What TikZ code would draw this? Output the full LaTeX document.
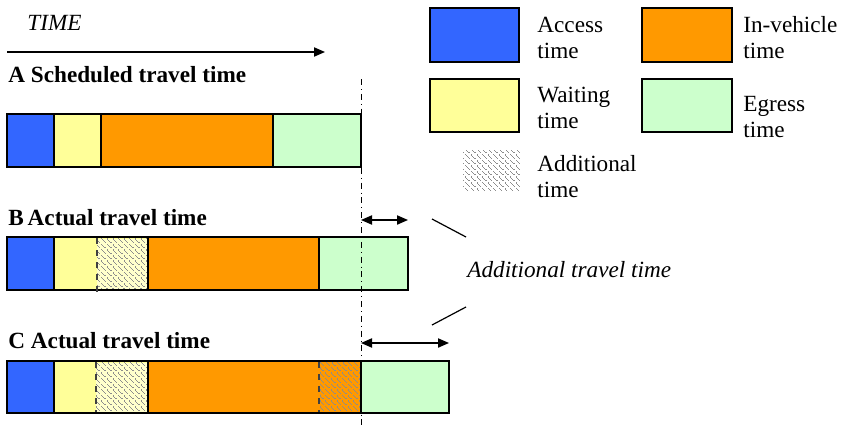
\documentclass[tikz,border=0pt]{standalone}
\usepackage{fontspec}
\setmainfont{Liberation Serif}
\usetikzlibrary{arrows.meta,patterns.meta}
\definecolor{accblue}{HTML}{3366FF}
\definecolor{waityellow}{HTML}{FFFF99}
\definecolor{paleyellow}{HTML}{FFFFCC}
\definecolor{vehorange}{HTML}{FF9900}
\definecolor{egrgreen}{HTML}{CCFFCC}
\tikzdeclarepattern{
  name=addhatch,
  type=uncolored,
  bounding box={(-.1pt,-.1pt) and (2.9pt,2.9pt)},
  tile size={(2.8pt,2.8pt)},
  line width=.4pt,
  code={\draw (.5pt,2.3pt) -- (2.3pt,.5pt);}
}

\begin{document}
\begin{tikzpicture}[x=.5pt,y=-.5pt,>={Triangle[length=5.5pt,width=4.6pt]},
  font=\fontsize{11.6}{13}\selectfont,
  seg/.style={draw=black,line width=1.4pt},
  hatch/.style={pattern=addhatch,pattern color=black!45},
  extra/.style={black!75,dashed,line width=.6pt},
  lab/.style={anchor=base west,inner sep=0pt,font=\fontsize{11.6}{13}\selectfont\bfseries},
  key/.style={anchor=base west,inner sep=0pt,align=left}]
\path[use as bounding box] (0,0) rectangle (842,428);
\fill[white] (0,0) rectangle (842,428);

% time axis
\node[anchor=base west,inner sep=0pt,font=\fontsize{11.6}{13}\selectfont\itshape] (timelbl) at (27,31) {TIME};
\coordinate (t0) at (7,52);
\coordinate (t1) at (325,52);
\draw[->,line width=.7pt] (t0) -- (t1);

% A: scheduled
\node[lab] (titleA) at (8,83) {A Scheduled travel time};
\foreach \xa/\xb/\col in {7/54/accblue,54/101/waityellow,101/273/vehorange,273/361/egrgreen}
  \draw[seg,fill=\col] (\xa,114) rectangle (\xb,167);

% B: actual, extra waiting
\node[lab] (titleB) at (8,225) {B\,Actual travel time};
\foreach \xa/\xb/\col in {7/54/accblue,54/148/waityellow,148/319/vehorange,319/408/egrgreen}
  \draw[seg,fill=\col] (\xa,237) rectangle (\xb,290);
\fill[paleyellow] (97,238.5) rectangle (146.6,288.5);
\fill[hatch] (97,238.5) rectangle (146.6,288.5);
\draw[extra] (97,238) -- (97,294);

% C: actual, extra waiting and in-vehicle
\node[lab] (titleC) at (8,348) {C Actual travel time};
\foreach \xa/\xb/\col in {7/54/accblue,54/148/waityellow,148/361/vehorange,361/449/egrgreen}
  \draw[seg,fill=\col] (\xa,361) rectangle (\xb,413);
\fill[paleyellow] (96,362.5) rectangle (146.6,411.5);
\fill[hatch] (96,362.5) rectangle (146.6,411.5);
\draw[extra] (96,362) -- (96,412);
\fill[hatch] (319,362.5) rectangle (359.6,411.5);
\draw[extra] (319,362) -- (319,412);

% end of scheduled trip
\coordinate (schedEnd) at (361,79);
\coordinate (schedBot) at (361,428);
\draw[dash dot,line width=.5pt] (schedEnd) -- (schedBot);

% additional travel time
\coordinate (bL) at (361,220);
\coordinate (bR) at (408,220);
\coordinate (cL) at (361,343);
\coordinate (cR) at (449,343);
\draw[<->,line width=.7pt] (bL) -- (bR);
\draw[<->,line width=.7pt] (cL) -- (cR);
\node[anchor=base west,inner sep=0pt,font=\fontsize{11.6}{13}\selectfont\itshape] (addnote) at (467,277) {Additional travel time};
\coordinate (up0) at (432,219);
\coordinate (up1) at (466,237);
\coordinate (dn0) at (432,325);
\coordinate (dn1) at (466,307);
\draw[line width=.6pt] (up0) -- (up1);
\draw[line width=.6pt] (dn0) -- (dn1);

% legend
\draw[seg,fill=accblue] (430,8) rectangle (519,62);
\node[key] (accKey) at (537,58) {Access\\time};
\draw[seg,fill=vehorange] (642,8) rectangle (732,62);
\node[key] (vehKey) at (743,58) {In-vehicle\\time};
\draw[seg,fill=waityellow] (430,79) rectangle (519,132);
\node[key] (waitKey) at (537,128) {Waiting\\time};
\draw[seg,fill=egrgreen] (642,79) rectangle (732,132);
\node[key] (egrKey) at (743,137) {Egress\\time};
\fill[hatch] (463,150) rectangle (519,190);
\node[key] (addKey) at (537,197) {Additional\\time};
\end{tikzpicture}
\end{document}
